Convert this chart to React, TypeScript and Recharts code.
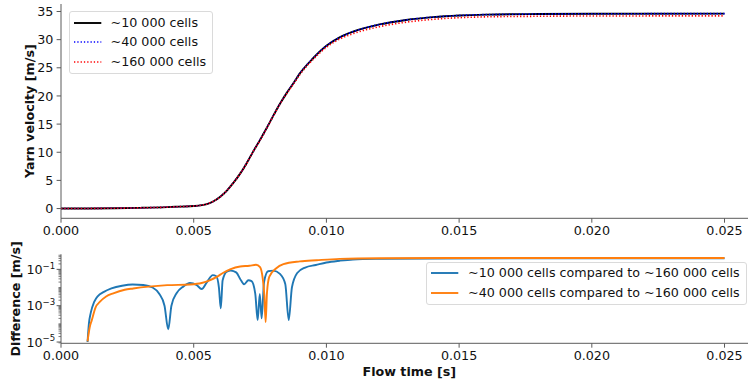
import React from 'react';
import { LineChart, Line, XAxis, YAxis, Legend, Label } from 'recharts';

const FONT = '"DejaVu Sans", sans-serif';
const FS = 12.7;
const SPINE = '#5a5a5a';

// ---------- data ----------
const xTicks = [0, 0.005, 0.01, 0.015, 0.02, 0.025];
const velTicks = [0, 5, 10, 15, 20, 25, 30, 35];

const velTime = [0, 0.001, 0.002, 0.003, 0.004, 0.0045, 0.005, 0.0055, 0.00575, 0.006, 0.00625, 0.0065, 0.00675, 0.007, 0.00725, 0.0075, 0.00775, 0.008, 0.00825, 0.0085, 0.00875, 0.009, 0.0095, 0.01, 0.0105, 0.011, 0.012, 0.013, 0.014, 0.015, 0.016, 0.018, 0.02, 0.025];
const vel10k = [0, 0.02, 0.06, 0.13, 0.25, 0.35, 0.45, 0.8, 1.3, 2.1, 3.2, 4.6, 6.2, 8.1, 10.2, 12.2, 14.3, 16.5, 18.6, 20.5, 22.2, 24.0, 26.7, 28.9, 30.4, 31.4, 32.7, 33.5, 34.0, 34.3, 34.45, 34.55, 34.6, 34.62];
const vel40k = [0, 0.02, 0.06, 0.13, 0.25, 0.35, 0.45, 0.8, 1.3, 2.1, 3.2, 4.6, 6.2, 8.1, 10.2, 12.2, 14.3, 16.5, 18.6, 20.5, 22.2, 24.0, 26.7, 28.9, 30.4, 31.4, 32.7, 33.5, 34.0, 34.3, 34.45, 34.55, 34.6, 34.62];
const vel160k = [0, 0.02, 0.06, 0.13, 0.25, 0.35, 0.45, 0.8, 1.3, 2.1, 3.2, 4.6, 6.2, 8.05, 10.2, 12.1, 14.25, 16.45, 18.55, 20.4, 22.05, 23.8, 26.5, 28.65, 30.1, 31.05, 32.3, 33.1, 33.6, 33.9, 34.05, 34.15, 34.2, 34.22];

const diffTime10k = [0.001, 0.00105, 0.00112, 0.00125, 0.0014, 0.0016, 0.0019, 0.0023, 0.0027, 0.0031, 0.00345, 0.0037, 0.0039, 0.00404, 0.00416, 0.00436, 0.0046, 0.00486, 0.0051, 0.0053, 0.0055, 0.00572, 0.00585, 0.00595, 0.00602, 0.00609, 0.00625, 0.0064, 0.0066, 0.00678, 0.0069, 0.00706, 0.00718, 0.00732, 0.00741, 0.00749, 0.00756, 0.00765, 0.0078, 0.008, 0.00825, 0.00845, 0.00858, 0.0087, 0.0089, 0.0092, 0.0096, 0.01, 0.0105, 0.011, 0.012, 0.014, 0.018, 0.025];
const diff10k = [1.0e-5, 1.0e-4, 4.0e-4, 1.6e-3, 3.5e-3, 5.6e-3, 8.9e-3, 1.26e-2, 1.48e-2, 1.38e-2, 1.0e-2, 4.5e-3, 1.0e-3, 5.0e-5, 1.0e-3, 5.0e-3, 1.12e-2, 1.78e-2, 1.41e-2, 8.3e-3, 2.0e-2, 4.8e-2, 4.2e-2, 1.0e-2, 7.1e-4, 2.5e-2, 7.6e-2, 8.5e-2, 6.8e-2, 2.5e-2, 1.51e-2, 2.5e-2, 2.24e-2, 4.5e-3, 1.6e-4, 4.5e-3, 2.0e-4, 2.0e-2, 7.9e-2, 8.5e-2, 5.6e-2, 1.58e-2, 1.6e-4, 1.0e-2, 6.3e-2, 0.126, 0.174, 0.24, 0.3, 0.35, 0.38, 0.4, 0.41, 0.41];

const diffTime40k = [0.001, 0.00108, 0.00116, 0.0013, 0.00147, 0.0017, 0.00197, 0.0024, 0.00272, 0.0033, 0.004, 0.00486, 0.0053, 0.0056, 0.00587, 0.0061, 0.00637, 0.00675, 0.0071, 0.00735, 0.0075, 0.0076, 0.00766, 0.00771, 0.00776, 0.00785, 0.0081, 0.00838, 0.009, 0.00963, 0.0105, 0.012, 0.015, 0.025];
const diff40k = [1.1e-5, 6.3e-5, 1.6e-4, 7.9e-4, 1.66e-3, 3.2e-3, 4.8e-3, 7.6e-3, 8.9e-3, 1.12e-2, 1.35e-2, 1.48e-2, 1.78e-2, 2.5e-2, 3.9e-2, 6.3e-2, 0.1, 0.145, 0.158, 0.178, 0.132, 3.2e-2, 4.0e-3, 1.26e-4, 5.0e-3, 4.0e-2, 0.112, 0.195, 0.275, 0.32, 0.38, 0.41, 0.42, 0.42];

const diffMajorTicks = [1e-5, 1e-3, 1e-1];
const diffMajorExp = ['\u22125', '\u22123', '\u22121'];
const diffMinorTicks = [9e-6, 2e-5, 3e-5, 4e-5, 5e-5, 6e-5, 7e-5, 8e-5, 9e-5, 1e-4, 2e-4, 3e-4, 4e-4, 5e-4, 6e-4, 7e-4, 8e-4, 9e-4, 2e-3, 3e-3, 4e-3, 5e-3, 6e-3, 7e-3, 8e-3, 9e-3, 1e-2, 2e-2, 3e-2, 4e-2, 5e-2, 6e-2, 7e-2, 8e-2, 9e-2, 2e-1, 3e-1, 4e-1, 5e-1, 6e-1];

const velNames = ['~10 000 cells', '~40 000 cells', '~160 000 cells'];
const velColors = ['#000000', '#0000ff', '#ff0000'];
const velDash = [undefined, '1.3 2', '1.3 2'];
const velWidth = [1.9, 1.6, 1.6];

const diffNames = ['~10 000 cells compared to ~160 000 cells', '~40 000 cells compared to ~160 000 cells'];
const diffColors = ['#1f77b4', '#ff7f0e'];

// ---------- tables ----------
const velData = velTime.map((t, i) => ({ t, a: vel10k[i], b: vel40k[i], c: vel160k[i] }));
const diffData10k = diffTime10k.map((t, i) => ({ t, d: diff10k[i] }));
const diffData40k = diffTime40k.map((t, i) => ({ t, d: diff40k[i] }));

const X_DOMAIN: [number, number] = [0, 0.02625];

const XTick = (props: any) => {
  const { x, y, payload } = props;
  return (
    <g>
      <line x1={x} x2={x} y1={y} y2={y + 4.4} stroke={SPINE} strokeWidth={1} />
      <text x={x} y={y + 16.3} textAnchor="middle" fontFamily={FONT} fontSize={FS} fill="#111">
        {Number(payload.value).toFixed(3)}
      </text>
    </g>
  );
};

const VelTick = (props: any) => {
  const { x, y, payload } = props;
  return (
    <g>
      <line x1={x} x2={x - 4.4} y1={y} y2={y} stroke={SPINE} strokeWidth={1} />
      <text x={x - 7.6} y={y + 4.6} textAnchor="end" fontFamily={FONT} fontSize={FS} fill="#111">
        {payload.value}
      </text>
    </g>
  );
};

const LogTick = (props: any) => {
  const { x, y, payload } = props;
  const idx = diffMajorTicks.indexOf(payload.value);
  if (idx < 0) {
    return <line x1={x} x2={x - 2.5} y1={y} y2={y} stroke={SPINE} strokeWidth={0.8} />;
  }
  return (
    <g>
      <line x1={x} x2={x - 4.4} y1={y} y2={y} stroke={SPINE} strokeWidth={1} />
      <text x={x - 5.8} y={y + 4.8} textAnchor="end" fontFamily={FONT} fontSize={FS} fill="#111">
        10
        <tspan dy={-5.6} fontSize={8.6}>{diffMajorExp[idx]}</tspan>
      </text>
    </g>
  );
};

const rotLabel = (text: string, dx: number) => (p: any) => {
  const vb = p.viewBox || { x: 0, y: 0, width: 0, height: 0 };
  const cy = vb.y + vb.height / 2;
  return (
    <text
      transform={`translate(${vb.x + dx}, ${cy}) rotate(-90)`}
      textAnchor="middle"
      dominantBaseline="central"
      fontFamily={FONT}
      fontSize={FS}
      fontWeight="bold"
      fill="#111"
    >
      {text}
    </text>
  );
};

const xLabel = (p: any) => {
  const vb = p.viewBox || { x: 0, y: 0, width: 0, height: 0 };
  return (
    <text x={vb.x + vb.width / 2} y={vb.y + 33.2} textAnchor="middle" fontFamily={FONT} fontSize={FS} fontWeight="bold" fill="#111">
      Flow time [s]
    </text>
  );
};

const LegendBox = ({ names, colors, dashes, widths, width, height, rowTop, rowGap }: any) => (
  <div
    style={{
      position: 'relative',
      width,
      height,
      boxSizing: 'border-box',
      border: '1px solid #dadada',
      borderRadius: 3,
      background: 'rgba(255,255,255,0.85)',
      fontFamily: FONT,
      fontSize: FS,
      color: '#111',
    }}
  >
    {names.map((n: string, i: number) => (
      <div key={n} style={{ position: 'absolute', left: 0, top: rowTop + i * rowGap - 8, height: 16, width: '100%' }}>
        <svg width={30} height={16} style={{ position: 'absolute', left: 3, top: 0 }}>
          <line x1={1} x2={28.3} y1={8} y2={8} stroke={colors[i]} strokeWidth={widths[i]} strokeDasharray={dashes[i]} />
        </svg>
        <span style={{ position: 'absolute', left: 41, top: 0, lineHeight: '16px', whiteSpace: 'nowrap' }}>{n}</span>
      </div>
    ))}
  </div>
);

export default function App() {
  return (
    <div style={{ position: 'absolute', left: 0, top: 0, width: 748, height: 383, overflow: 'hidden', background: '#fff' }}>
      <div style={{ position: 'absolute', left: 0, top: 0 }}>
        <LineChart width={760} height={249} data={velData} margin={{ top: 4, right: 2.3, left: 0, bottom: 0.7 }}>
          <XAxis
            dataKey="t"
            type="number"
            domain={X_DOMAIN}
            allowDataOverflow
            ticks={xTicks}
            interval={0}
            tickSize={0}
            tickMargin={0}
            tickLine={false}
            tick={(p: any) => <XTick {...p} />}
            height={30}
            axisLine={{ stroke: SPINE, strokeWidth: 1 }}
          />
          <XAxis
            xAxisId="top"
            orientation="top"
            dataKey="t"
            type="number"
            domain={X_DOMAIN}
            allowDataOverflow
            height={0}
            tick={false}
            tickLine={false}
            axisLine={{ stroke: SPINE, strokeWidth: 1 }}
          />
          <YAxis
            type="number"
            domain={[-1.73, 36.33]}
            allowDataOverflow
            ticks={velTicks}
            interval={0}
            width={61}
            tickSize={0}
            tickMargin={0}
            tickLine={false}
            tick={(p: any) => <VelTick {...p} />}
            axisLine={{ stroke: SPINE, strokeWidth: 1 }}
          >
            <Label content={rotLabel('Yarn velocity [m/s]', 29)} />
          </YAxis>
          <Line type="monotone" dataKey="a" name={velNames[0]} stroke={velColors[0]} strokeWidth={velWidth[0]} dot={false} isAnimationActive={false} />
          <Line type="monotone" dataKey="b" name={velNames[1]} stroke={velColors[1]} strokeWidth={velWidth[1]} strokeDasharray={velDash[1]} dot={false} isAnimationActive={false} />
          <Line type="monotone" dataKey="c" name={velNames[2]} stroke={velColors[2]} strokeWidth={velWidth[2]} strokeDasharray={velDash[2]} dot={false} isAnimationActive={false} />
          <Legend
            layout="vertical"
            align="center"
            verticalAlign="middle"
            wrapperStyle={{ left: 68.5, top: 10.5, width: 144, height: 63 }}
            content={() => (
              <LegendBox names={velNames} colors={velColors} dashes={velDash} widths={velWidth} width={144} height={63} rowTop={11.5} rowGap={19.3} />
            )}
          />
        </LineChart>
      </div>
      <div style={{ position: 'absolute', left: 0, top: 230 }}>
        <LineChart width={760} height={153.3} margin={{ top: 24.3, right: 2.3, left: 0, bottom: 0 }}>
          <XAxis
            dataKey="t"
            type="number"
            domain={X_DOMAIN}
            allowDataOverflow
            ticks={xTicks}
            interval={0}
            tickSize={0}
            tickMargin={0}
            tickLine={false}
            tick={(p: any) => <XTick {...p} />}
            height={40}
            axisLine={{ stroke: SPINE, strokeWidth: 1 }}
          >
            <Label content={xLabel} />
          </XAxis>
          <XAxis
            xAxisId="top"
            orientation="top"
            dataKey="t"
            type="number"
            domain={X_DOMAIN}
            allowDataOverflow
            height={0}
            tick={false}
            tickLine={false}
            axisLine={{ stroke: SPINE, strokeWidth: 1 }}
          />
          <YAxis
            type="number"
            scale="log"
            domain={[8.5e-6, 0.676]}
            allowDataOverflow
            ticks={[...diffMajorTicks, ...diffMinorTicks]}
            interval={0}
            width={61}
            tickSize={0}
            tickMargin={0}
            tickLine={false}
            tick={(p: any) => <LogTick {...p} />}
            axisLine={{ stroke: SPINE, strokeWidth: 1 }}
          >
            <Label content={rotLabel('Difference [m/s]', 15)} />
          </YAxis>
          <Line data={diffData10k} type="monotone" dataKey="d" name={diffNames[0]} stroke={diffColors[0]} strokeWidth={1.9} dot={false} isAnimationActive={false} />
          <Line data={diffData40k} type="monotone" dataKey="d" name={diffNames[1]} stroke={diffColors[1]} strokeWidth={1.9} dot={false} isAnimationActive={false} />
          <Legend
            layout="vertical"
            align="center"
            verticalAlign="middle"
            wrapperStyle={{ left: 426, top: 31.7, width: 321, height: 43 }}
            content={() => (
              <LegendBox names={diffNames} colors={diffColors} dashes={[undefined, undefined]} widths={[1.9, 1.9]} width={321} height={43} rowTop={10.8} rowGap={20} />
            )}
          />
        </LineChart>
      </div>
    </div>
  );
}
